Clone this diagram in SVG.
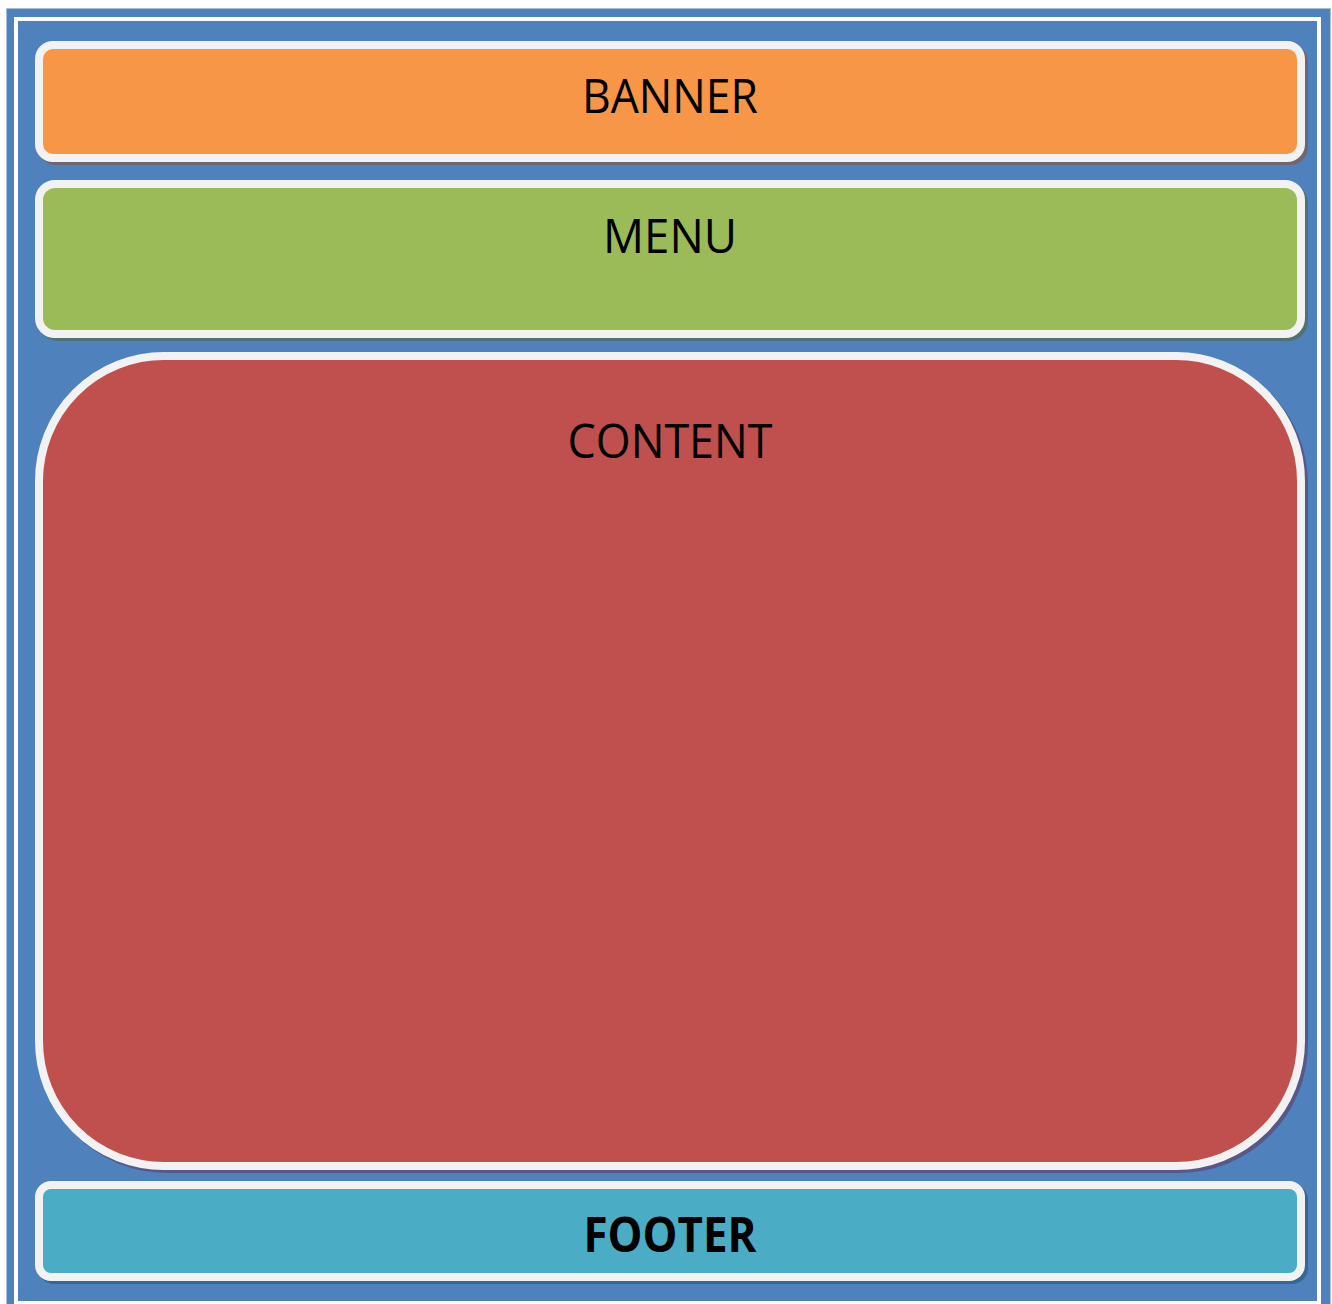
<svg xmlns="http://www.w3.org/2000/svg" width="1332" height="1304" viewBox="0 0 1332 1304">
<style>
.box{stroke:#f2f2f2;stroke-width:8}
.shadow{stroke:none;opacity:0.75}
.lbl{font-family:"Open Sans","Noto Sans","Liberation Sans",sans-serif;font-size:48px;fill:#000;text-anchor:middle}
.bold{font-weight:bold}
</style>
<rect width="1332" height="1304" fill="#ffffff"/>
<rect id="frame" x="6.5" y="8.5" width="1324" height="1300" fill="#4f81bd" stroke="#a7bfdd" stroke-width="1"/>
<rect id="inner-line" x="16" y="19" width="1303" height="1284" fill="none" stroke="#ffffff" stroke-width="4"/>
<g id="banner">
<rect class="shadow" x="38" y="44" width="1270" height="121" rx="18" fill="#7a5e5a"/>
<rect class="box" x="39" y="45" width="1262" height="113" rx="14" fill="#f79646"/>
<text class="lbl" x="670" y="113" textLength="176" lengthAdjust="spacingAndGlyphs">BANNER</text>
</g>
<g id="menu">
<rect class="shadow" x="38" y="183" width="1270" height="158" rx="20" fill="#4f6e5e"/>
<rect class="box" x="39" y="184" width="1262" height="150" rx="16" fill="#9bbb59"/>
<text class="lbl" x="670" y="253" textLength="134" lengthAdjust="spacingAndGlyphs">MENU</text>
</g>
<g id="content">
<rect class="shadow" x="38" y="355" width="1270" height="818" rx="129" fill="#5a4a7a"/>
<rect class="box" x="39" y="356" width="1262" height="810" rx="125" fill="#c0504d"/>
<text class="lbl" x="670" y="458" textLength="205" lengthAdjust="spacingAndGlyphs">CONTENT</text>
</g>
<g id="footer">
<rect class="shadow" x="38" y="1184" width="1270" height="100" rx="16" fill="#2f5f8a"/>
<rect class="box" x="39" y="1185" width="1262" height="92" rx="12" fill="#4bacc6"/>
<text class="lbl bold" x="670" y="1252" textLength="173" lengthAdjust="spacingAndGlyphs">FOOTER</text>
</g>
<g id="connectors"/>
</svg>
